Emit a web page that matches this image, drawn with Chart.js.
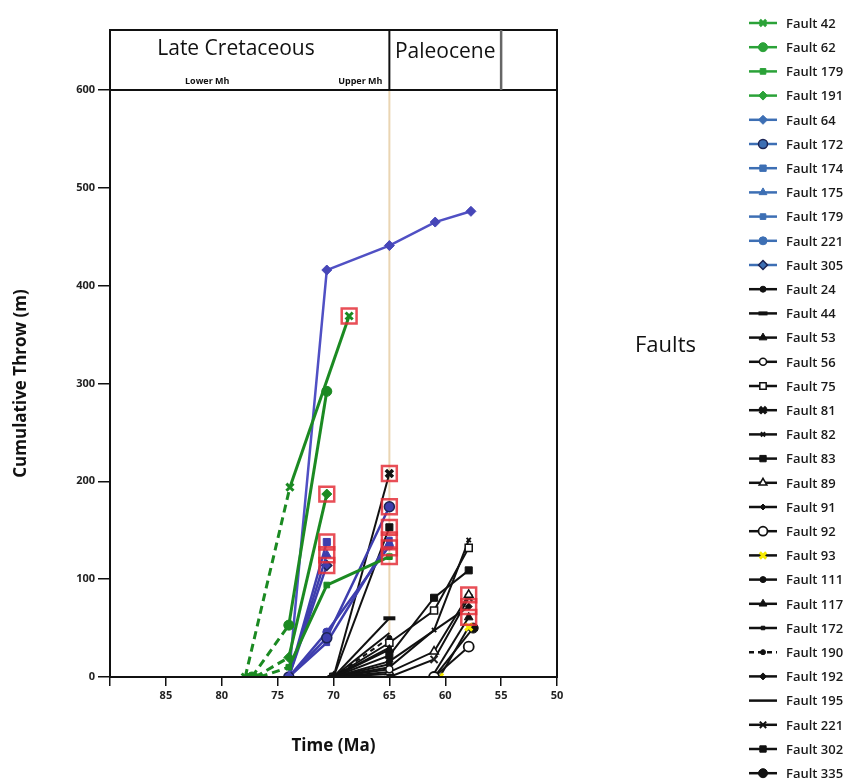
<!DOCTYPE html>
<html>
<head>
<meta charset="utf-8">
<script src="https://cdn.jsdelivr.net/npm/chart.js@4.4.0/dist/chart.umd.min.js"></script>
<style>
  html, body { margin: 0; padding: 0; background: #fff; }
  #wrap { width: 845px; height: 783px; }
</style>
</head>
<body>
<div id="wrap"><canvas id="chart"></canvas></div>
<script>
// values: time in Ma, cumulative throw in m
const greenNames = ["Fault 42", "Fault 62", "Fault 179", "Fault 191"];
const greenTime = [[77.9, 73.9, 68.6], [77.3, 74, 70.6], [76.6, 74, 70.6, 65], [77, 74, 70.6]];
const greenThrow = [[0, 194, 369], [0, 53, 292], [0, 10, 94, 123], [0, 20, 187]];

const blueNames = ["Fault 64", "Fault 172", "Fault 174", "Fault 175", "Fault 179", "Fault 221", "Fault 305"];
const blueTime = [[74, 70.6, 65, 60.9, 57.7], [74, 70.6, 65], [74, 70.6], [74, 70.6], [74, 70.6, 65], [74, 70.6, 65], [74, 70.6]];
const blueThrow = [[0, 416, 441, 465, 476], [0, 40, 174], [0, 138], [0, 125], [0, 35, 140], [0, 46, 134], [0, 114]];

const blackNames = ["Fault 24", "Fault 44", "Fault 53", "Fault 56", "Fault 75", "Fault 81", "Fault 82", "Fault 83",
  "Fault 89", "Fault 91", "Fault 92", "Fault 93", "Fault 111", "Fault 117", "Fault 172", "Fault 190", "Fault 192",
  "Fault 195", "Fault 221", "Fault 302", "Fault 335"];
const blackTime = [[70, 65], [70, 65], [70, 65], [70, 65], [70, 65, 61, 57.9], [70, 65], [70, 65, 61, 57.9], [70, 65, 61, 57.9],
  [70, 65, 61, 57.9], [70, 65], [61, 57.9], [60.5, 57.9], [70, 65], [61.2, 57.9], [70, 65], [70, 65], [65, 57.9],
  [70, 65], [65, 61, 57.9], [70, 65], [61, 57.5]];
const blackThrow = [[0, 16], [0, 60], [0, 28], [0, 8], [0, 35, 68, 132], [0, 208], [0, 10, 48, 140], [0, 22, 81, 109],
  [0, 5, 26, 84], [0, 3], [0, 31], [0, 51], [0, 13], [0, 61], [0, 30], [0, 40], [16, 72],
  [0, 45], [0, 18, 81, 140], [0, 153], [0, 50]];

// points outlined with a red box in the figure
const boxTime = [68.6, 70.6, 70.6, 70.6, 70.6, 65, 65, 65, 65, 65, 65, 57.9, 57.9, 57.9];
const boxThrow = [369, 187, 138, 125, 114, 208, 174, 153, 140, 132, 123, 84, 72, 61];

const periodNames = ["Late Cretaceous", "Paleocene"];
const periodBounds = [90, 65, 55, 50];
const stageNames = ["Lower Mh", "Upper Mh"];
const stageAges = [81.3, 67.6];

const xTicks = [85, 80, 75, 70, 65, 60, 55, 50];
const yTicks = [0, 100, 200, 300, 400, 500, 600];

// marker styles: [pointStyle, radius, fill, border, borderWidth]
const greenMarks = [["crossRot", 5, null, null, 3], ["circle", 5], ["rect", 4], ["rectRot", 5]];
const blueMarks = [["rectRot", 5], ["circle", 5, null, "#1c2454", 1.5], ["rect", 5], ["triangle", 5], ["rect", 4],
  ["circle", 4], ["rectRot", 5, null, "#1c2454", 1.5]];
const blackMarks = [["circle", 3], ["line", 6, null, null, 4], ["triangle", 5], ["circle", 3.5, "#fff", null, 1.5],
  ["rect", 5, "#fff", null, 1.5], ["crossRot", 5, null, null, 3.5], ["crossRot", 3, null, null, 2],
  ["rect", 5], ["triangle", 5, "#fff", null, 1.5], ["rectRot", 3], ["circle", 5, "#fff", null, 1.8],
  ["crossRot", 5, null, "#f5e900", 3], ["circle", 3], ["triangle", 5], ["rect", 2.5], ["circle", 2.5],
  ["rectRot", 3.5], ["circle", 0], ["crossRot", 5, null, "#222", 2], ["rect", 5], ["circle", 5]];

const GREEN = "#1b8a22", BLUE = "#3e3eae", BLACK = "#111";

function pts(times, vals) {
  return times.map((t, j) => ({ x: t, y: vals[j] }));
}

function group(names, times, vals, marks, color, legendColor, dashFirst) {
  return names.map((n, i) => {
    const m = marks[i];
    const ds = {
      label: n,
      data: pts(times[i], vals[i]),
      borderColor: color,
      borderWidth: 2.5,
      pointStyle: m[0],
      pointRadius: m[1],
      pointHoverRadius: m[1],
      pointBackgroundColor: m[2] || color,
      pointBorderColor: m[3] || color,
      pointBorderWidth: m[4] || 1,
      legendColor: legendColor,
      fill: false,
      tension: 0
    };
    if (dashFirst) {
      ds.segment = { borderDash: c => (c.p0DataIndex === 0 ? [8, 5] : undefined) };
      ds.borderWidth = 3;
    }
    return ds;
  });
}

const greenSets = group(greenNames, greenTime, greenThrow, greenMarks, GREEN, "#2ba238", true);
const blueSets = group(blueNames, blueTime, blueThrow, blueMarks, BLUE, "#3d6fb4", false);
blueSets[0].borderColor = "#5050c4";
blueSets[0].pointBackgroundColor = "#4646b8";
blueSets[0].pointBorderColor = "#4646b8";
const blackSets = group(blackNames, blackTime, blackThrow, blackMarks, BLACK, BLACK, false);
blackSets.forEach(d => { d.borderWidth = 2; });
blackSets[15].borderDash = [5, 4];

const boxSet = {
  label: "highlight",
  data: pts(boxTime, boxThrow),
  showLine: false,
  pointStyle: "rect",
  pointRadius: 10.5,
  pointHoverRadius: 10.5,
  pointBackgroundColor: "rgba(0,0,0,0)",
  pointBorderColor: "rgba(228,48,58,0.85)",
  pointBorderWidth: 2.5,
  order: -1,
  noLegend: true
};

const FONT = "'Open Sans', 'Noto Sans', sans-serif";

// header with periods, 65 Ma line, frame
const periodBox = {
  id: "periodBox",
  beforeDatasetsDraw(chart) {
    const { ctx, chartArea, scales } = chart;
    const xb = scales.x.getPixelForValue(periodBounds[1]);
    ctx.save();
    ctx.strokeStyle = "#ead5b3";
    ctx.lineWidth = 2;
    ctx.beginPath();
    ctx.moveTo(xb, chartArea.top);
    ctx.lineTo(xb, chartArea.bottom);
    ctx.stroke();
    ctx.restore();
  },
  afterDraw(chart) {
    const { ctx, chartArea, scales } = chart;
    const x = scales.x;
    const top = chartArea.top - 60;
    ctx.save();
    ctx.strokeStyle = "#111";
    ctx.lineWidth = 2;
    ctx.strokeRect(chartArea.left, top, chartArea.right - chartArea.left, chartArea.bottom - top);
    ctx.beginPath();
    ctx.moveTo(chartArea.left, chartArea.top);
    ctx.lineTo(chartArea.right, chartArea.top);
    ctx.stroke();
    const b1 = x.getPixelForValue(periodBounds[1]);
    ctx.beginPath();
    ctx.moveTo(b1, top);
    ctx.lineTo(b1, chartArea.top);
    ctx.stroke();
    const b2 = x.getPixelForValue(periodBounds[2]);
    ctx.strokeStyle = "#666";
    ctx.lineWidth = 2.5;
    ctx.beginPath();
    ctx.moveTo(b2, top);
    ctx.lineTo(b2, chartArea.top);
    ctx.stroke();

    ctx.fillStyle = "#111";
    ctx.textAlign = "center";
    ctx.textBaseline = "middle";
    ctx.font = "21px " + FONT;
    ctx.fillText(periodNames[0], 236, top + 19);
    ctx.fillText(periodNames[1], (b1 + b2) / 2, top + 22);
    ctx.font = "bold 9px " + FONT;
    stageNames.forEach((s, i) => ctx.fillText(s, x.getPixelForValue(stageAges[i]), top + 51));
    ctx.restore();
  }
};

// legend on the right: line sample, marker, label
const faultLegend = {
  id: "faultLegend",
  afterDraw(chart) {
    const { ctx } = chart;
    const sets = chart.data.datasets.filter(d => !d.noLegend);
    ctx.save();
    ctx.font = "600 13px " + FONT;
    ctx.textBaseline = "middle";
    ctx.textAlign = "left";
    sets.forEach((d, i) => {
      const y = 23 + i * 24.2;
      const c = d.legendColor;
      ctx.strokeStyle = c;
      ctx.lineWidth = 2.5;
      ctx.setLineDash(d.borderDash || []);
      ctx.beginPath();
      ctx.moveTo(749, y);
      ctx.lineTo(777, y);
      ctx.stroke();
      ctx.setLineDash([]);
      if (d.pointRadius > 0) {
        ctx.fillStyle = d.pointBackgroundColor === "#fff" ? "#fff" : c;
        ctx.strokeStyle = d.pointBorderColor === "#f5e900" ? "#f5e900" : (d.pointBorderColor === "#1c2454" ? "#1c2454" : c);
        ctx.lineWidth = d.pointBorderWidth;
        Chart.helpers.drawPoint(ctx, {
          pointStyle: d.pointStyle,
          radius: Math.min(d.pointRadius, 4.5),
          rotation: 0,
          borderWidth: d.pointBorderWidth
        }, 763, y);
      }
      ctx.fillStyle = "#1a1a1a";
      ctx.fillText(d.label, 786, y + 1);
    });
    ctx.font = "22px " + FONT;
    ctx.fillStyle = "#111";
    ctx.fillText("Faults", 635, 346);
    ctx.restore();
  }
};

new Chart(document.getElementById("chart"), {
  type: "line",
  data: { datasets: [boxSet, ...greenSets, ...blueSets, ...blackSets] },
  options: {
    responsive: true,
    maintainAspectRatio: false,
    animation: false,
    layout: { padding: { top: 90, right: 288, left: 0, bottom: 0 } },
    plugins: { legend: { display: false }, tooltip: { enabled: false } },
    scales: {
      x: {
        type: "linear",
        reverse: true,
        min: 50,
        max: 90,
        afterFit: s => { s.height = 106; },
        afterBuildTicks: s => { s.ticks = [90, ...xTicks].map(v => ({ value: v })); },
        ticks: {
          callback: v => (xTicks.includes(v) ? v : ""),
          font: { family: FONT, size: 11, weight: "bold" },
          color: "#222",
          padding: 3,
          maxRotation: 0
        },
        grid: { drawOnChartArea: false, drawTicks: true, tickLength: 9, color: "#111", lineWidth: 1.5 },
        border: { color: "#111", width: 2 },
        title: { display: true, text: "Time (Ma)", font: { family: FONT, size: 17, weight: "bold" }, color: "#111", padding: { bottom: 27 } }
      },
      y: {
        min: 0,
        max: 600,
        afterFit: s => { s.width = 110; },
        afterBuildTicks: s => { s.ticks = yTicks.map(v => ({ value: v })); },
        ticks: { font: { family: FONT, size: 11, weight: "bold" }, color: "#222", padding: 3 },
        grid: { drawOnChartArea: false, drawTicks: true, tickLength: 12, color: "#111", lineWidth: 1.5 },
        border: { color: "#111", width: 2 },
        title: { display: true, text: "Cumulative Throw (m)", font: { family: FONT, size: 17, weight: "bold" }, color: "#111", padding: { top: 11 } }
      }
    }
  },
  plugins: [periodBox, faultLegend]
});
</script>
</body>
</html>
